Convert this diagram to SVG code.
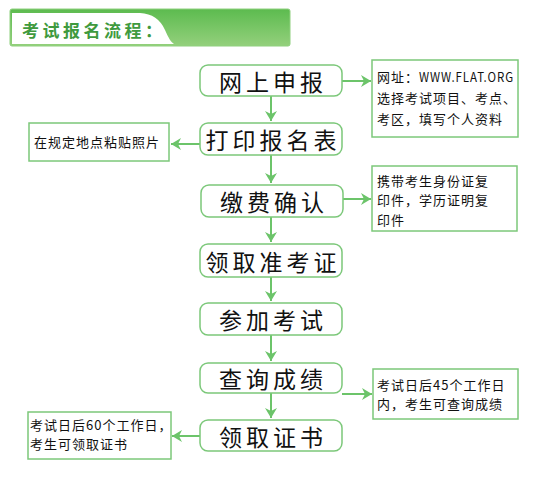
<svg xmlns="http://www.w3.org/2000/svg" width="552" height="480" viewBox="0 0 552 480">
<defs>
<linearGradient id="hg" x1="0" y1="0" x2="0" y2="1">
<stop offset="0" stop-color="#5cbb4f"/>
<stop offset="1" stop-color="#94d07c"/>
</linearGradient>
<marker id="ah" markerWidth="12" markerHeight="12" refX="10" refY="6" orient="auto" markerUnits="userSpaceOnUse">
<path d="M0,0 L10,6 L0,12 L3,6 Z" fill="#6cc46a"/>
</marker>
<style>
.node rect{fill:#fff;stroke:#7cc87a;stroke-width:1.5}
.node text{font-family:"Noto Sans CJK SC","Noto Sans CJK JP",sans-serif;font-size:23px;letter-spacing:4px;fill:#111;text-anchor:middle;dominant-baseline:central}
.note rect{fill:#fff;stroke:#7cc87a;stroke-width:1.5}
.note text{font-family:"Noto Sans CJK SC","Noto Sans CJK JP",sans-serif;font-size:13px;letter-spacing:1px;fill:#111;dominant-baseline:central}
#connectors path{fill:none;stroke:#6cc46a;stroke-width:2}
</style>
</defs>
<rect width="552" height="480" fill="#fff"/>
<g id="header">
<rect x="10" y="9" width="280" height="37" rx="2" fill="url(#hg)" stroke="#8fd07e" stroke-width="1"/>
<path d="M12,13 L140,13 Q158,14 165,30 Q170,42 174,44 L12,44 Z" fill="#fff"/>
<text x="22" y="29" font-family="'Noto Sans CJK SC',sans-serif" font-size="17" font-weight="bold" letter-spacing="3.5" fill="#3f9a3e" dominant-baseline="central">考试报名流程：</text>
</g>
<g id="connectors">
<path d="M271,96 V121" marker-end="url(#ah)"/>
<path d="M271,155 V183" marker-end="url(#ah)"/>
<path d="M271,217 V242" marker-end="url(#ah)"/>
<path d="M271,277 V301" marker-end="url(#ah)"/>
<path d="M271,335 V361" marker-end="url(#ah)"/>
<path d="M271,393 V418" marker-end="url(#ah)"/>
<path d="M342,81 H371" marker-end="url(#ah)"/>
<path d="M200,144 H171" marker-end="url(#ah)"/>
<path d="M343,199 H371" marker-end="url(#ah)"/>
<path d="M342,394 H372" marker-end="url(#ah)"/>
<path d="M200,436 H172" marker-end="url(#ah)"/>
</g>
<g id="n1" class="node"><rect x="200" y="65" width="142" height="31" rx="8"/><text x="273" y="80.5">网上申报</text></g>
<g id="n2" class="node"><rect x="200" y="123" width="142" height="32" rx="8"/><text x="273" y="139">打印报名表</text></g>
<g id="n3" class="node"><rect x="201" y="185" width="142" height="32" rx="8"/><text x="274" y="201">缴费确认</text></g>
<g id="n4" class="node"><rect x="200" y="244" width="142" height="33" rx="8"/><text x="273" y="260.5">领取准考证</text></g>
<g id="n5" class="node"><rect x="200" y="303" width="142" height="32" rx="8"/><text x="273" y="319">参加考试</text></g>
<g id="n6" class="node"><rect x="200" y="363" width="142" height="30" rx="8"/><text x="273" y="378">查询成绩</text></g>
<g id="n7" class="node"><rect x="200" y="420" width="142" height="31" rx="8"/><text x="273" y="435.5">领取证书</text></g>
<g id="note1" class="note"><rect x="372" y="60" width="146" height="77"/>
<text x="377" y="76" letter-spacing="0">网址：<tspan textLength="95" lengthAdjust="spacingAndGlyphs">WWW.FLAT.ORG</tspan></text>
<text x="377" y="97.5" letter-spacing="1.3">选择考试项目、考点、</text>
<text x="377" y="118.5" letter-spacing="1.3">考区，填写个人资料</text></g>
<g id="note2" class="note"><rect x="29" y="123" width="140" height="38"/>
<text x="34" y="141" letter-spacing="1.6">在规定地点粘贴照片</text></g>
<g id="note3" class="note"><rect x="372" y="166" width="145" height="65"/>
<text x="377" y="180" letter-spacing="3.6">携带考生身份证复</text>
<text x="377" y="199.5" letter-spacing="3.6">印件，学历证明复</text>
<text x="377" y="219" letter-spacing="3.6">印件</text></g>
<g id="note4" class="note"><rect x="373" y="369" width="145" height="50"/>
<text x="377" y="384.5">考试日后45个工作日</text>
<text x="377" y="403.5">内，考生可查询成绩</text></g>
<g id="note5" class="note"><rect x="28" y="412" width="143" height="47"/>
<text x="30" y="424.5">考试日后60个工作日，</text>
<text x="30" y="443.5">考生可领取证书</text></g>
</svg>
